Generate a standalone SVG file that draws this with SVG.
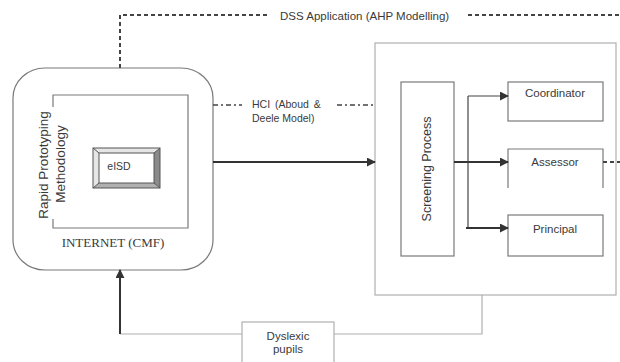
<svg xmlns="http://www.w3.org/2000/svg" width="620" height="362" viewBox="0 0 620 362">
<defs>
<style>
text{font-family:"Liberation Sans",Arial,sans-serif;fill:#3a3a3a}
.box{fill:none;stroke:#7a7a7a;stroke-width:1.2}
.light{fill:none;stroke:#b0b0b0;stroke-width:1.2}
.arrow{fill:none;stroke:#333;stroke-width:2}
.thin{fill:none;stroke:#444;stroke-width:1.2}
.dash{fill:none;stroke:#444;stroke-width:2;stroke-dasharray:4 3}
.dashdot{fill:none;stroke:#444;stroke-width:1.5;stroke-dasharray:5 3 2 3}
</style>
<marker id="ah" viewBox="0 0 10 10" refX="9" refY="5" markerWidth="9" markerHeight="9" markerUnits="userSpaceOnUse" orient="auto">
<path d="M0,0 L10,5 L0,10 Z" fill="#333"/>
</marker>
</defs>
<rect width="620" height="362" fill="#fff"/>

<g id="internet">
<rect x="13" y="68" width="200" height="202" rx="32" ry="30" class="box"/>
<path d="M53,107 L53,95 L188,95 L188,228 L53,228 L53,219" class="box"/>
<text transform="translate(48,165) rotate(-90)" text-anchor="middle" font-size="13.5">Rapid Prototyping</text>
<text transform="translate(65,164) rotate(-90)" text-anchor="middle" font-size="13.5">Methodology</text>
<text x="113" y="247" text-anchor="middle" font-size="13" style="font-family:'Liberation Serif','Times New Roman',serif">INTERNET (CMF)</text>
</g>

<g id="eisd">
<polygon points="93,148 160,148 154,153 99,153" fill="#e6e6e6"/>
<polygon points="93,148 99,153 99,183 93,188" fill="#e6e6e6"/>
<polygon points="160,148 160,188 154,183 154,153" fill="#8a8a8a"/>
<polygon points="93,188 160,188 154,183 99,183" fill="#b0b0b0"/>
<rect x="93" y="148" width="67" height="40" fill="none" stroke="#555" stroke-width="1"/>
<rect x="99" y="153" width="55" height="30" fill="#fff" stroke="#555" stroke-width="1"/>
<path d="M93,148 L99,153 M160,148 L154,153 M93,188 L99,183 M160,188 L154,183" stroke="#555" stroke-width="1"/>
<text x="119" y="170" text-anchor="middle" font-size="10.5">eISD</text>
</g>

<g id="school">
<rect x="375" y="43" width="241" height="252" class="light"/>
</g>

<g id="screening">
<rect x="401" y="82" width="53" height="174" class="box"/>
<text transform="translate(431,169) rotate(-90)" text-anchor="middle" font-size="12.5">Screening Process</text>
</g>

<g id="coordinator">
<rect x="508" y="82" width="95" height="39" class="box"/>
<text x="555" y="97" text-anchor="middle" font-size="11.5">Coordinator</text>
</g>

<g id="assessor">
<path d="M508,188 L508,149 L603,149 L603,188" class="box"/>
<text x="555" y="166" text-anchor="middle" font-size="11.5">Assessor</text>
</g>

<g id="principal">
<rect x="508" y="215" width="95" height="41" class="box"/>
<text x="555" y="233" text-anchor="middle" font-size="11.5">Principal</text>
</g>

<g id="dyslexic">
<rect x="242" y="322" width="92" height="45" class="light"/>
<text x="288" y="340" text-anchor="middle" font-size="11.5">Dyslexic</text>
<text x="288" y="353" text-anchor="middle" font-size="11.5">pupils</text>
</g>

<g id="labels">
<text x="280" y="20" font-size="11.5">DSS Application (AHP Modelling)</text>
<text x="252" y="108" font-size="10.5" word-spacing="2">HCI (Aboud &amp;</text>
<text x="252" y="122" font-size="10.5">Deele Model)</text>
</g>

<g id="connectors">
<path d="M120,68 L120,15 L268,15" class="dash"/>
<path d="M468,15 L620,15" class="dash"/>
<path d="M213,105 L242,105" class="dashdot"/>
<path d="M337,105 L375,105" class="dashdot"/>
<path d="M603,162 L620,162" class="dash"/>
<path d="M213,162 L375,162" class="arrow" marker-end="url(#ah)"/>
<path d="M454,162 L508,162" class="arrow" marker-end="url(#ah)"/>
<path d="M468,96 L468,228" class="thin"/>
<path d="M468,96 L508,96" class="thin" marker-end="url(#ah)"/>
<path d="M466,228 L508,228" class="arrow" marker-end="url(#ah)"/>
<path d="M482,295 L482,334 L334,334" class="light"/>
<path d="M242,334 L120,334" class="light"/>
<path d="M120,334 L120,270" class="arrow" marker-end="url(#ah)"/>
</g>
</svg>
